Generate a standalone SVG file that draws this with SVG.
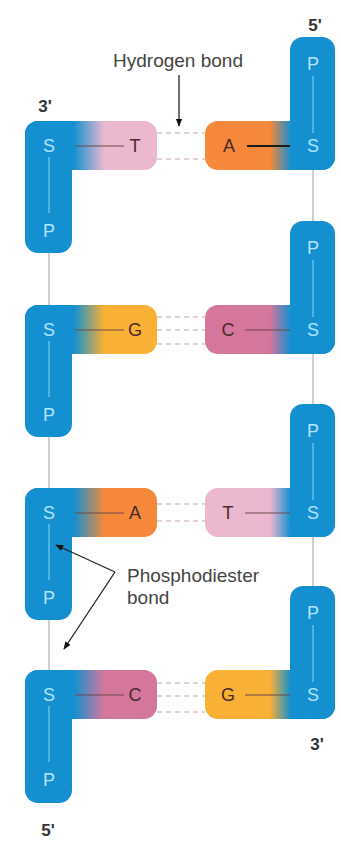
<svg xmlns="http://www.w3.org/2000/svg" width="341" height="841" viewBox="0 0 341 841">
  <style>
    .blue { fill: #1490d0; }
    .inner { stroke: #8fd3f2; stroke-width: 1; }
    .link { stroke: #6b4a4a; stroke-width: 1; }
    .sp { font-family: "Liberation Sans", Arial, sans-serif; font-size: 18px; fill: #b3e3f8; text-anchor: middle; }
    .base { font-family: "Liberation Sans", Arial, sans-serif; font-size: 18px; fill: #4a2a2a; text-anchor: middle; }
    .end { font-family: "Liberation Sans", Arial, sans-serif; font-size: 17px; font-weight: bold; fill: #333; text-anchor: middle; }
    .label { font-family: "Liberation Sans", Arial, sans-serif; font-size: 19px; fill: #444; }
    .backbone { stroke: #a0a0a0; stroke-width: 1; }
    .hbond { stroke: #c4a6ae; stroke-width: 1.2; stroke-dasharray: 5 4; }
    .arrow { stroke: #222; stroke-width: 1.3; fill: none; marker-end: url(#head); }
  </style>
  <defs>
    <marker id="head" viewBox="0 0 10 10" refX="9" refY="5" markerWidth="8" markerHeight="8" orient="auto" markerUnits="userSpaceOnUse">
      <path d="M0,1 L10,5 L0,9 Z" fill="#111"/>
    </marker>
    <!-- sugar-to-base gradients, left strand (blue on the left) -->
    <linearGradient id="gL-T" gradientUnits="userSpaceOnUse" x1="25" y1="0" x2="157" y2="0">
      <stop offset="0" stop-color="#1490d0"/><stop offset="0.37" stop-color="#1490d0"/><stop offset="0.6" stop-color="#ebb8d0"/><stop offset="1" stop-color="#ebb8d0"/>
    </linearGradient>
    <linearGradient id="gL-G" gradientUnits="userSpaceOnUse" x1="25" y1="0" x2="157" y2="0">
      <stop offset="0" stop-color="#1490d0"/><stop offset="0.37" stop-color="#1490d0"/><stop offset="0.6" stop-color="#f8b035"/><stop offset="1" stop-color="#f8b035"/>
    </linearGradient>
    <linearGradient id="gL-A" gradientUnits="userSpaceOnUse" x1="25" y1="0" x2="157" y2="0">
      <stop offset="0" stop-color="#1490d0"/><stop offset="0.37" stop-color="#1490d0"/><stop offset="0.6" stop-color="#f5883a"/><stop offset="1" stop-color="#f5883a"/>
    </linearGradient>
    <linearGradient id="gL-C" gradientUnits="userSpaceOnUse" x1="25" y1="0" x2="157" y2="0">
      <stop offset="0" stop-color="#1490d0"/><stop offset="0.37" stop-color="#1490d0"/><stop offset="0.6" stop-color="#d5769c"/><stop offset="1" stop-color="#d5769c"/>
    </linearGradient>
    <!-- right strand (blue on the right) -->
    <linearGradient id="gR-A" gradientUnits="userSpaceOnUse" x1="205" y1="0" x2="335" y2="0">
      <stop offset="0" stop-color="#f5883a"/><stop offset="0.5" stop-color="#f5883a"/><stop offset="0.66" stop-color="#1490d0"/><stop offset="1" stop-color="#1490d0"/>
    </linearGradient>
    <linearGradient id="gR-C" gradientUnits="userSpaceOnUse" x1="205" y1="0" x2="335" y2="0">
      <stop offset="0" stop-color="#d5769c"/><stop offset="0.5" stop-color="#d5769c"/><stop offset="0.66" stop-color="#1490d0"/><stop offset="1" stop-color="#1490d0"/>
    </linearGradient>
    <linearGradient id="gR-T" gradientUnits="userSpaceOnUse" x1="205" y1="0" x2="335" y2="0">
      <stop offset="0" stop-color="#ebb8d0"/><stop offset="0.5" stop-color="#ebb8d0"/><stop offset="0.66" stop-color="#1490d0"/><stop offset="1" stop-color="#1490d0"/>
    </linearGradient>
    <linearGradient id="gR-G" gradientUnits="userSpaceOnUse" x1="205" y1="0" x2="335" y2="0">
      <stop offset="0" stop-color="#f8b035"/><stop offset="0.5" stop-color="#f8b035"/><stop offset="0.66" stop-color="#1490d0"/><stop offset="1" stop-color="#1490d0"/>
    </linearGradient>
  </defs>

  <!-- connectors: backbone links and hydrogen bonds (drawn beneath the nucleotides) -->
  <g id="connectors">
    <line class="backbone" x1="49" y1="253" x2="49" y2="305"/>
    <line class="backbone" x1="49" y1="437" x2="49" y2="488"/>
    <line class="backbone" x1="49" y1="620" x2="49" y2="670"/>
    <line class="backbone" x1="313" y1="170" x2="313" y2="221"/>
    <line class="backbone" x1="313" y1="354" x2="313" y2="404"/>
    <line class="backbone" x1="313" y1="537" x2="313" y2="586"/>

    <line class="hbond" x1="157" y1="133" x2="205" y2="133"/>
    <line class="hbond" x1="157" y1="159" x2="205" y2="159"/>

    <line class="hbond" x1="157" y1="317" x2="205" y2="317"/>
    <line class="hbond" x1="157" y1="330" x2="205" y2="330"/>
    <line class="hbond" x1="157" y1="344" x2="205" y2="344"/>

    <line class="hbond" x1="157" y1="504" x2="205" y2="504"/>
    <line class="hbond" x1="157" y1="521" x2="205" y2="521"/>

    <line class="hbond" x1="157" y1="683" x2="205" y2="683"/>
    <line class="hbond" x1="157" y1="696" x2="205" y2="696"/>
    <line class="hbond" x1="157" y1="712" x2="205" y2="712"/>
  </g>

  <!-- pair 1: T-A -->
  <g id="left-T1">
    <rect x="25" y="121" width="132" height="49" rx="13" fill="url(#gL-T)"/>
    <rect class="blue" x="25" y="121" width="47" height="132" rx="13"/>
    <line class="inner" x1="49" y1="157" x2="49" y2="213"/>
    <line class="link" x1="75" y1="146" x2="124" y2="146"/>
    <text class="sp" x="49" y="152">S</text>
    <text class="sp" x="49" y="237">P</text>
    <text class="base" x="135" y="152">T</text>
  </g>
  <g id="right-A1">
    <rect x="205" y="121" width="130" height="49" rx="13" fill="url(#gR-A)"/>
    <rect class="blue" x="290" y="37" width="45" height="133" rx="13"/>
    <line class="inner" x1="313" y1="76" x2="313" y2="133"/>
    <line x1="247" y1="146" x2="290" y2="146" stroke="#1a1a1a" stroke-width="2.2"/>
    <text class="sp" x="313" y="70">P</text>
    <text class="sp" x="313" y="152">S</text>
    <text class="base" x="229" y="152">A</text>
  </g>

  <!-- pair 2: G-C -->
  <g id="left-G2">
    <rect x="25" y="305" width="132" height="49" rx="13" fill="url(#gL-G)"/>
    <rect class="blue" x="25" y="305" width="47" height="132" rx="13"/>
    <line class="inner" x1="49" y1="341" x2="49" y2="397"/>
    <line class="link" x1="75" y1="330" x2="124" y2="330"/>
    <text class="sp" x="49" y="336">S</text>
    <text class="sp" x="49" y="421">P</text>
    <text class="base" x="135" y="336">G</text>
  </g>
  <g id="right-C2">
    <rect x="205" y="305" width="130" height="49" rx="13" fill="url(#gR-C)"/>
    <rect class="blue" x="290" y="221" width="45" height="133" rx="13"/>
    <line class="inner" x1="313" y1="260" x2="313" y2="317"/>
    <line class="link" x1="245" y1="330" x2="290" y2="330"/>
    <text class="sp" x="313" y="254">P</text>
    <text class="sp" x="313" y="336">S</text>
    <text class="base" x="228" y="336">C</text>
  </g>

  <!-- pair 3: A-T -->
  <g id="left-A3">
    <rect x="25" y="488" width="132" height="49" rx="13" fill="url(#gL-A)"/>
    <rect class="blue" x="25" y="488" width="47" height="132" rx="13"/>
    <line class="inner" x1="49" y1="524" x2="49" y2="580"/>
    <line class="link" x1="75" y1="513" x2="124" y2="513"/>
    <text class="sp" x="49" y="519">S</text>
    <text class="sp" x="49" y="604">P</text>
    <text class="base" x="135" y="519">A</text>
  </g>
  <g id="right-T3">
    <rect x="205" y="488" width="130" height="49" rx="13" fill="url(#gR-T)"/>
    <rect class="blue" x="290" y="404" width="45" height="133" rx="13"/>
    <line class="inner" x1="313" y1="443" x2="313" y2="500"/>
    <line class="link" x1="245" y1="513" x2="290" y2="513"/>
    <text class="sp" x="313" y="437">P</text>
    <text class="sp" x="313" y="519">S</text>
    <text class="base" x="228" y="519">T</text>
  </g>

  <!-- pair 4: C-G -->
  <g id="left-C4">
    <rect x="25" y="670" width="132" height="49" rx="13" fill="url(#gL-C)"/>
    <rect class="blue" x="25" y="670" width="47" height="133" rx="13"/>
    <line class="inner" x1="49" y1="706" x2="49" y2="762"/>
    <line class="link" x1="75" y1="695" x2="124" y2="695"/>
    <text class="sp" x="49" y="701">S</text>
    <text class="sp" x="49" y="786">P</text>
    <text class="base" x="135" y="701">C</text>
  </g>
  <g id="right-G4">
    <rect x="205" y="670" width="130" height="49" rx="13" fill="url(#gR-G)"/>
    <rect class="blue" x="290" y="586" width="45" height="133" rx="13"/>
    <line class="inner" x1="313" y1="625" x2="313" y2="682"/>
    <line class="link" x1="245" y1="695" x2="290" y2="695"/>
    <text class="sp" x="313" y="619">P</text>
    <text class="sp" x="313" y="701">S</text>
    <text class="base" x="228" y="701">G</text>
  </g>

  <!-- annotation arrows, drawn over the nucleotides -->
  <g id="annotation-arrows">
    <line class="arrow" x1="179" y1="75" x2="179" y2="126"/>
    <line class="arrow" x1="115" y1="572" x2="56" y2="545"/>
    <line class="arrow" x1="115" y1="572" x2="64" y2="649"/>
  </g>

  <!-- strand ends and annotations -->
  <g id="labels">
    <text class="end" x="315" y="31">5'</text>
    <text class="end" x="45" y="112">3'</text>
    <text class="end" x="317" y="750">3'</text>
    <text class="end" x="48" y="836">5'</text>
    <text class="label" x="178" y="67" text-anchor="middle">Hydrogen bond</text>
    <text class="label" x="127" y="582">Phosphodiester</text>
    <text class="label" x="127" y="604">bond</text>
  </g>
</svg>
